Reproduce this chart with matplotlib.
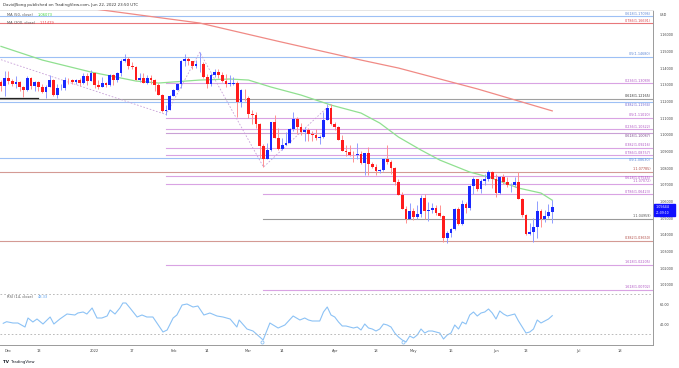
import matplotlib.pyplot as plt
import matplotlib.patches as patches
import numpy as np
import pandas as pd

W, H = 679, 368

# EUR/USD daily bars, first bar 2021-11-29 (bar index -2), Dec 1 2021 = index 0
opens = [1.1317, 1.1290, 1.1338, 1.1320, 1.1303, 1.1317, 1.1285, 1.1268, 1.1342, 1.1291,
         1.1316, 1.1286, 1.1258, 1.1289, 1.1331, 1.1240, 1.1280, 1.1283, 1.1329, 1.1326,
         1.1318, 1.1327, 1.1310, 1.1350, 1.1322, 1.1370, 1.1298, 1.1287, 1.1311, 1.1296,
         1.1359, 1.1326, 1.1368, 1.1440, 1.1455, 1.1413, 1.1408, 1.1326, 1.1343, 1.1311,
         1.1343, 1.1326, 1.1300, 1.1241, 1.1143, 1.1146, 1.1235, 1.1271, 1.1305, 1.1441,
         1.1454, 1.1440, 1.1415, 1.1424, 1.1426, 1.1349, 1.1307, 1.1360, 1.1374, 1.1360,
         1.1322, 1.1306, 1.1307, 1.1309, 1.1195, 1.1220, 1.1218, 1.1125, 1.1121, 1.1065,
         1.0931, 1.0856, 1.0906, 1.1075, 1.0983, 1.0912, 1.0940, 1.0953, 1.1034, 1.1093,
         1.1049, 1.1016, 1.1031, 1.1006, 1.0996, 1.0983, 1.0985, 1.1087, 1.1158, 1.1067,
         1.1046, 1.0970, 1.0903, 1.0899, 1.0880, 1.0876, 1.0884, 1.0829, 1.0889, 1.0826,
         1.0808, 1.0780, 1.0790, 1.0853, 1.0836, 1.0799, 1.0714, 1.0641, 1.0557, 1.0497,
         1.0544, 1.0507, 1.0525, 1.0620, 1.0541, 1.0551, 1.0558, 1.0529, 1.0513, 1.0379,
         1.0412, 1.0437, 1.0553, 1.0465, 1.0586, 1.0563, 1.0690, 1.0734, 1.0674, 1.0724,
         1.0733, 1.0779, 1.0733, 1.0648, 1.0749, 1.0719, 1.0697, 1.0700, 1.0718, 1.0616,
         1.0519, 1.0407, 1.0414, 1.0446, 1.0545, 1.0497, 1.0512, 1.0534]
highs = [1.1330, 1.1383, 1.1382, 1.1336, 1.1353, 1.1322, 1.1290, 1.1355, 1.1345, 1.1325,
         1.1325, 1.1304, 1.1300, 1.1360, 1.1334, 1.1305, 1.1302, 1.1345, 1.1343, 1.1333,
         1.1333, 1.1340, 1.1370, 1.1368, 1.1386, 1.1376, 1.1330, 1.1346, 1.1319, 1.1364,
         1.1365, 1.1375, 1.1455, 1.1482, 1.1464, 1.1435, 1.1410, 1.1369, 1.1369, 1.1360,
         1.1358, 1.1334, 1.1310, 1.1245, 1.1176, 1.1240, 1.1272, 1.1313, 1.1450, 1.1483,
         1.1468, 1.1443, 1.1448, 1.1495, 1.1438, 1.1367, 1.1369, 1.1395, 1.1395, 1.1375,
         1.1365, 1.1361, 1.1345, 1.1322, 1.1274, 1.1272, 1.1233, 1.1146, 1.1138, 1.1070,
         1.0947, 1.0953, 1.1077, 1.1120, 1.1041, 1.0983, 1.1019, 1.1040, 1.1137, 1.1105,
         1.1070, 1.1046, 1.1042, 1.1024, 1.1036, 1.1001, 1.1137, 1.1185, 1.1184, 1.1077,
         1.1050, 1.0998, 1.0939, 1.0937, 1.0900, 1.0952, 1.0903, 1.0890, 1.0925, 1.0838,
         1.0822, 1.0797, 1.0855, 1.0936, 1.0850, 1.0805, 1.0737, 1.0658, 1.0574, 1.0592,
         1.0558, 1.0580, 1.0641, 1.0642, 1.0598, 1.0593, 1.0579, 1.0578, 1.0521, 1.0424,
         1.0443, 1.0563, 1.0566, 1.0607, 1.0598, 1.0697, 1.0748, 1.0736, 1.0737, 1.0765,
         1.0787, 1.0785, 1.0765, 1.0750, 1.0764, 1.0749, 1.0709, 1.0749, 1.0774, 1.0620,
         1.0524, 1.0471, 1.0499, 1.0601, 1.0556, 1.0548, 1.0583, 1.0606]
lows = [1.1265, 1.1235, 1.1306, 1.1290, 1.1281, 1.1263, 1.1227, 1.1262, 1.1275, 1.1262,
        1.1265, 1.1252, 1.1222, 1.1285, 1.1234, 1.1221, 1.1266, 1.1268, 1.1307, 1.1306,
        1.1305, 1.1295, 1.1305, 1.1300, 1.1320, 1.1283, 1.1272, 1.1284, 1.1285, 1.1292,
        1.1300, 1.1315, 1.1355, 1.1437, 1.1397, 1.1392, 1.1326, 1.1314, 1.1309, 1.1304,
        1.1302, 1.1264, 1.1236, 1.1139, 1.1121, 1.1147, 1.1233, 1.1268, 1.1282, 1.1410,
        1.1419, 1.1392, 1.1401, 1.1374, 1.1340, 1.1280, 1.1294, 1.1349, 1.1339, 1.1316,
        1.1286, 1.1293, 1.1300, 1.1106, 1.1169, 1.1200, 1.1102, 1.1063, 1.1038, 1.0861,
        1.0806, 1.0852, 1.0902, 1.0981, 1.0906, 1.0906, 1.0940, 1.0948, 1.1023, 1.1003,
        1.1000, 1.0962, 1.0965, 1.0962, 1.0966, 1.0945, 1.0982, 1.1086, 1.1061, 1.1028,
        1.0968, 1.0903, 1.0873, 1.0870, 1.0837, 1.0857, 1.0822, 1.0757, 1.0758, 1.0800,
        1.0761, 1.0770, 1.0780, 1.0824, 1.0765, 1.0697, 1.0637, 1.0553, 1.0470, 1.0495,
        1.0490, 1.0492, 1.0505, 1.0492, 1.0483, 1.0532, 1.0518, 1.0505, 1.0354, 1.0350,
        1.0389, 1.0431, 1.0461, 1.0460, 1.0532, 1.0549, 1.0642, 1.0661, 1.0651, 1.0699,
        1.0721, 1.0680, 1.0627, 1.0642, 1.0705, 1.0685, 1.0654, 1.0687, 1.0612, 1.0508,
        1.0397, 1.0397, 1.0359, 1.0381, 1.0444, 1.0479, 1.0503, 1.0469]
closes = [1.1290, 1.1338, 1.1320, 1.1303, 1.1317, 1.1285, 1.1268, 1.1342, 1.1291, 1.1316,
          1.1286, 1.1258, 1.1289, 1.1331, 1.1240, 1.1280, 1.1283, 1.1329, 1.1326, 1.1318,
          1.1327, 1.1310, 1.1350, 1.1322, 1.1370, 1.1298, 1.1287, 1.1311, 1.1296, 1.1359,
          1.1326, 1.1368, 1.1440, 1.1455, 1.1413, 1.1408, 1.1326, 1.1343, 1.1311, 1.1343,
          1.1326, 1.1300, 1.1241, 1.1143, 1.1146, 1.1235, 1.1271, 1.1305, 1.1441, 1.1454,
          1.1440, 1.1415, 1.1424, 1.1426, 1.1349, 1.1307, 1.1360, 1.1374, 1.1360, 1.1322,
          1.1306, 1.1307, 1.1309, 1.1195, 1.1270, 1.1218, 1.1125, 1.1121, 1.1065, 1.0931,
          1.0856, 1.0906, 1.1075, 1.0983, 1.0912, 1.0940, 1.0953, 1.1034, 1.1093, 1.1049,
          1.1016, 1.1031, 1.1006, 1.0996, 1.0983, 1.0985, 1.1087, 1.1158, 1.1067, 1.1046,
          1.0970, 1.0903, 1.0899, 1.0880, 1.0876, 1.0884, 1.0829, 1.0889, 1.0826, 1.0808,
          1.0780, 1.0790, 1.0853, 1.0836, 1.0799, 1.0714, 1.0641, 1.0557, 1.0497, 1.0544,
          1.0507, 1.0525, 1.0620, 1.0541, 1.0551, 1.0558, 1.0529, 1.0513, 1.0379, 1.0412,
          1.0437, 1.0553, 1.0465, 1.0586, 1.0563, 1.0690, 1.0734, 1.0674, 1.0724, 1.0733,
          1.0779, 1.0733, 1.0648, 1.0749, 1.0719, 1.0697, 1.0700, 1.0718, 1.0616, 1.0519,
          1.0407, 1.0414, 1.0446, 1.0545, 1.0497, 1.0512, 1.0534, 1.05644]

# moving averages (bar index, value)
sma50_idx = [-2, 9, 22, 34, 40, 51, 59, 64, 70, 78, 86, 94, 99, 104, 110, 115, 123, 128, 136, 142, 145]
sma50_val = [1.1530, 1.1448, 1.1376, 1.1322, 1.1310, 1.1328, 1.1334, 1.1328, 1.1286, 1.1238,
             1.1178, 1.1130, 1.1070, 1.0986, 1.0908, 1.0848, 1.0776, 1.0746, 1.0680, 1.0650, 1.06073]
sma200_idx = [-2, 25, 51, 72, 94, 104, 125, 145]
sma200_val = [1.1830, 1.1748, 1.1670, 1.1560, 1.1448, 1.1400, 1.1275, 1.11429]

# RSI(14) (bar index, value)
rsi_idx = [-1.4, -0.5, 1.2, 2.5, 4.4, 5.2, 6.5, 7.6, 9.2, 11.1, 12.1, 13.7, 15.6, 17.7, 18.5,
           19.9, 20.9, 22.3, 23.6, 24.9, 26.3, 27.1, 28.4, 29.7, 30.5, 31.3, 32.4, 34.3, 35.6,
           36.9, 38.5, 41.2, 42.3, 43.9, 44.9, 46.3, 47.6, 49.2, 50.5, 52.1, 53.7, 55.6, 57.2,
           59.1, 60.9, 61.5, 63.6, 65.2, 67.9, 69.7, 71.9, 73.7, 75.9, 77.7,
           79, 80, 81, 82, 83, 84, 85, 86, 87, 88, 89, 90, 91, 92, 93, 94, 95, 96, 97, 98, 99,
           100, 101, 102, 103, 104, 105, 106, 107, 108, 109, 110, 111, 112, 113, 114, 115, 116,
           117, 118, 119, 120, 121, 122, 123, 124, 125, 126, 127, 128, 129, 130, 131, 132, 133,
           134, 135, 136, 137, 138, 139, 140, 141, 142, 143, 144, 145]
rsi_val = [40.7, 42.3, 41, 41, 37, 46, 42, 45, 40, 47, 40, 45, 50, 49, 51,
           52, 50, 56, 46, 46, 48, 54, 50, 56, 61, 61, 56, 47, 49,
           47, 47, 32, 34, 46, 49, 59, 60, 57, 58, 49, 51, 48, 47,
           45, 37, 44, 35, 33, 24, 41, 36, 39, 48, 44,
           46, 44, 43, 43, 43, 52, 57, 49, 47, 42, 38, 38, 37, 36, 37, 34, 40, 36, 35, 33, 35,
           40, 39, 37, 31, 27, 24, 22, 28, 26, 29, 35, 31, 33, 33, 32, 31, 25,
           29, 31, 39, 35, 42, 40, 49, 52, 48, 51, 52, 55, 51, 45, 53, 50, 48,
           49, 50, 43, 37, 31, 32, 35, 44, 41, 43, 45, 48.33]

# fibonacci levels: label, price, first bar, line colour, text colour
fib_labels = ["0.618(1.17096)", "0.786(1.16691)", "0.5(1.14680)", "0.236(1.13089)",
              "0.618(1.12165)", "0.382(1.11934)", "0.5(1.11010)", "0.236(1.10322)",
              "0.618(1.10087)", "0.382(1.09216)", "0.786(1.08757)", "0.5(1.08630)",
              "1(1.07785)", "0.618(1.07545)", "1(1.07072)", "0.786(1.06423)",
              "1(1.04959)", "0.382(1.03650)", "1.618(1.02205)", "1.618(1.00702)"]
fib_prices = [1.17096, 1.16691, 1.14680, 1.13089, 1.12165, 1.11934, 1.11010, 1.10322,
              1.10087, 1.09216, 1.08757, 1.08630, 1.07785, 1.07545, 1.07072, 1.06423,
              1.04959, 1.03650, 1.02205, 1.00702]
fib_start = [-3, -3, -3, 42, -3, -3, 42, 42, 42, 42, 42, -3, -3, 42, 42, 68, 68, -3, 42, 68]
fib_line_col = ["#9dc0f5", "#e8777b", "#9dc0f5", "#d9a3e3", "#a0a0a0", "#9dc0f5", "#d9a3e3",
                "#d9a3e3", "#c9a0d6", "#d9a3e3", "#d9a3e3", "#9dc0f5", "#d49a94", "#d9a3e3",
                "#d9a3e3", "#d9a3e3", "#9a9a9a", "#d49a94", "#d9a3e3", "#d9a3e3"]
fib_text_col = ["#5c86d6", "#d9434b", "#5c86d6", "#b055c4", "#333333", "#6f5fd0", "#b055c4",
                "#b055c4", "#7a4a8a", "#b055c4", "#b055c4", "#5c86d6", "#b04a44", "#b055c4",
                "#b055c4", "#b055c4", "#555555", "#b04a44", "#b055c4", "#b055c4"]
# labels that sit under their line so that close pairs do not collide
fib_below = ["0.5(1.08630)", "0.618(1.07545)", "0.618(1.10087)", "0.382(1.11934)"]

# swing points joined by the fib tools' dashed trend lines
swing_idx = [-2, 42, 51, 68, 86]
swing_val = [1.1450, 1.1121, 1.1495, 1.0806, 1.1185]

# event markers under the RSI line
event_idx = [67.6, 105.2]

tick_dates = ["2021-12-01", "2021-12-13", "2022-01-03", "2022-01-17", "2022-02-01", "2022-02-14",
              "2022-03-01", "2022-03-14", "2022-04-01", "2022-04-18", "2022-05-02", "2022-05-16",
              "2022-06-01", "2022-06-13", "2022-07-01", "2022-07-18"]
tick_labels = ["Dec", "13", "2022", "17", "Feb", "14", "Mar", "14", "Apr", "18", "May", "16",
               "Jun", "13", "Jul", "18"]


# --- layout helpers (pixel -> figure fraction)
def fx(px):
    return px / W


def fy(py):
    return 1 - py / H


XL = (-8.5 / 3.75, (653 - 8.5) / 3.75)
YL = (1.16 - (293 - 34.7) / 1667, 1.16 + (34.7 - 10) / 1667)
FS = 2.6

fig = plt.figure(figsize=(W / 100, H / 100), dpi=100)
fig.patch.set_facecolor("white")
ax = fig.add_axes([0, fy(293), fx(653), fy(10) - fy(293)])
rax = fig.add_axes([0, fy(345), fx(653), fy(293) - fy(345)])

o = np.array(opens)
h = np.array(highs)
l = np.array(lows)
c = np.array(closes)
xs = np.arange(len(c)) - 2
up = c >= o

# fib lines
for lab, p, s, lc, tc in zip(fib_labels, fib_prices, fib_start, fib_line_col, fib_text_col):
    ax.plot([s, XL[1]], [p, p], color=lc, lw=0.8, zorder=1)
    if lab in fib_below:
        ax.text(XL[1] - 0.6, p - 0.0003, lab, color=tc, fontsize=FS - 0.2, ha="right", va="top", zorder=5)
    else:
        ax.text(XL[1] - 0.6, p + 0.0003, lab, color=tc, fontsize=FS - 0.2, ha="right", va="bottom", zorder=5)
ax.plot([-3, 8], [1.1219, 1.1219], color="#222222", lw=0.9, zorder=1)

ax.plot(swing_idx, swing_val, color="#c8a0d8", lw=0.6, ls=(0, (2, 2)), zorder=2)

# moving averages
ax.plot(sma200_idx, sma200_val, color="#f08a85", lw=0.9, zorder=3)
ax.plot(sma50_idx, sma50_val, color="#90e090", lw=0.9, zorder=3)

# candles
wick_col = np.where(up, "#8f9cff", "#ff9090")
body_col = np.where(up, "#1a28ff", "#ff1c1c")
ax.vlines(xs, l, h, colors=wick_col, lw=0.7, zorder=4)
body = np.maximum(np.abs(c - o), 0.00025)
ax.bar(xs, body, bottom=np.minimum(o, c), width=0.74, color=body_col, lw=0, zorder=4)

ax.set_xlim(*XL)
ax.set_ylim(*YL)
ax.yaxis.tick_right()
ax.set_yticks(np.arange(1.01, 1.161, 0.01))
ax.set_yticklabels([f"{v:.5f}" for v in np.arange(1.01, 1.161, 0.01)])
ax.tick_params(axis="y", length=0, pad=5, labelsize=FS - 0.2, labelcolor="#444444")
ax.set_xticks([])
ax.spines["left"].set_visible(False)
ax.spines["top"].set_color("#e6e6e6")
ax.spines["bottom"].set_color("#d0d0d0")
ax.spines["right"].set_color("#9a9a9a")
for sp in ax.spines.values():
    sp.set_linewidth(0.7)

# RSI pane
rax.plot(rsi_idx, rsi_val, color="#8cc2f5", lw=0.8)
for lvl in [70, 30]:
    rax.axhline(lvl, color="#b0b0b0", lw=0.6, ls=(0, (2, 2.5)))
rax.plot(event_idx, [22.5] * len(event_idx), "o", ms=2.2, mfc="white", mec="#8cc2f5", mew=0.6)
rax.set_xlim(*XL)
rax.set_ylim(19, 71)
rax.yaxis.tick_right()
rax.set_yticks([40, 60])
rax.set_yticklabels(["40.00", "60.00"])
rax.tick_params(axis="y", length=0, pad=5, labelsize=FS - 0.2, labelcolor="#444444")
bar_dates = pd.bdate_range("2021-11-29", "2022-07-29")
pos = {d.strftime("%Y-%m-%d"): i - 2 for i, d in enumerate(bar_dates)}
rax.set_xticks([pos[d] for d in tick_dates])
rax.set_xticklabels(tick_labels)
rax.tick_params(axis="x", length=0, pad=3, labelsize=FS, labelcolor="#444444")
rax.spines["left"].set_visible(False)
rax.spines["top"].set_visible(False)
rax.spines["right"].set_color("#9a9a9a")
rax.spines["bottom"].set_color("#9a9a9a")
for sp in rax.spines.values():
    sp.set_linewidth(0.7)

# texts around the panes
fig.text(fx(3), fy(5), "DavidJSong published on TradingView.com, Jun 22, 2022 23:50 UTC",
         fontsize=2.9, color="#333333", va="center")
fig.text(fx(7), fy(15.5), "MA (50, close)", fontsize=FS, color="#555555", va="center")
fig.text(fx(38), fy(15.5), "1.06073", fontsize=FS, color="#3fd13f", va="center")
fig.text(fx(7), fy(22.5), "MA (200, close)", fontsize=FS, color="#555555", va="center")
fig.text(fx(40), fy(22.5), "1.11429", fontsize=FS, color="#e8434b", va="center")
fig.text(fx(7), fy(297), "RSI (14, close)", fontsize=FS, color="#555555", va="center")
fig.text(fx(38), fy(297), "48.33", fontsize=FS, color="#5aa0ef", va="center")
fig.text(fx(660), fy(15), "USD", fontsize=FS - 0.2, color="#444444", va="center")

# last price tag
fig.patches.append(patches.Rectangle((fx(654), fy(216)), fx(21), fy(204) - fy(216),
                                     transform=fig.transFigure, color="#1010ff", zorder=10))
fig.text(fx(656), fy(207.5), "1.05644", fontsize=2.4, color="white", va="center", zorder=11)
fig.text(fx(656), fy(213), "21:09:10", fontsize=2.2, color="white", va="center", zorder=11)

# logo
fig.text(fx(3), fy(362), "TV", fontsize=3, color="#131722", weight="bold", va="center")
fig.text(fx(11), fy(362), "TradingView", fontsize=2.8, color="#131722", va="center")

fig.savefig("out.png", dpi=100)
